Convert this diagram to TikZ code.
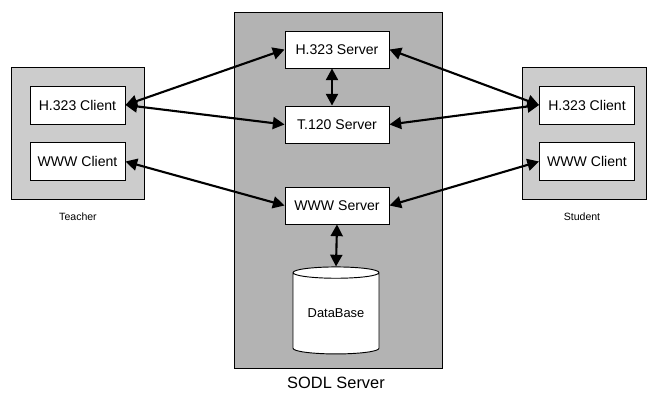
\documentclass[tikz,border=0pt]{standalone}
\usepackage{fontspec}
\setmainfont{Liberation Sans}
\usetikzlibrary{shapes.geometric, arrows.meta, positioning}
\definecolor{hostgray}{HTML}{CCCCCC}
\definecolor{srvgray}{HTML}{B3B3B3}
\tikzstyle{hostbox} = [rectangle, draw, fill=hostgray, line width=0.8pt, inner sep=0pt, minimum width=3.99cm, minimum height=3.96cm]
\tikzstyle{srvbox} = [rectangle, draw, fill=srvgray, line width=0.8pt, inner sep=0pt, minimum width=6.24cm, minimum height=10.68cm]
\tikzstyle{cbox} = [rectangle, draw, fill=white, line width=0.8pt, inner sep=0pt, minimum width=2.85cm, minimum height=1.14cm, font=\fontsize{12}{14}\selectfont]
\tikzstyle{sbox} = [rectangle, draw, fill=white, line width=0.8pt, inner sep=0pt, minimum width=3.12cm, minimum height=1.11cm, font=\fontsize{12}{14}\selectfont]
\tikzstyle{dbnode} = [cylinder, shape border rotate=90, aspect=0.2, draw, fill=white, line width=0.8pt, inner sep=0pt, minimum width=2.58cm, minimum height=2.61cm, font=\fontsize{11}{13}\selectfont]
\tikzstyle{link} = [draw, line width=1.8pt, >={Triangle[length=3.5mm, width=3.6mm]}, <->]

\begin{document}
\begin{tikzpicture}[x=0.03cm, y=-0.03cm]
			\useasboundingbox (0, 0) rectangle (647, 394);
			
			\node [hostbox] (teacher) at (77.5, 133) {};
			\node [hostbox, minimum width=3.72cm] (student) at (584, 133) {};
			\node [srvbox] (sodl) at (338, 190) {};
			
			\node [cbox] (tch323) at (77.5, 105) {H.323 Client};
			\node [cbox] (tcwww) at (77.5, 161.5) {WWW Client};
			\node [cbox] (sch323) at (587, 105) {H.323 Client};
			\node [cbox] (scwww) at (587, 161.5) {WWW Client};
			
			\node [sbox] (h323) at (337, 49.5) {H.323 Server};
			\node [sbox] (t120) at (337, 124.5) {T.120 Server};
			\node [sbox] (www) at (337, 205.5) {WWW Server};
			\node [dbnode] (db) at (336, 313.5) {DataBase};
			
			\node [font=\fontsize{9}{11}\selectfont] (tlabel) at (78, 217) {Teacher};
			\node [font=\fontsize{9}{11}\selectfont] (slabel) at (582, 217) {Student};
			\node [font=\fontsize{14}{16}\selectfont] (sodllabel) at (336, 383) {SODL Server};
			
			\path [link] (tch323.east) -- (h323.west);
			\path [link] (tch323.east) -- (t120.west);
			\path [link] (tcwww.east) -- (www.west);
			\path [link] (sch323.west) -- (h323.east);
			\path [link] (sch323.west) -- (t120.east);
			\path [link] (scwww.west) -- (www.east);
			\path [link] ([xshift=-5*0.03cm]h323.south) -- ([xshift=-5*0.03cm]t120.north);
			\path [link] (www.south) -- (db.north);
		\end{tikzpicture}
\end{document}
